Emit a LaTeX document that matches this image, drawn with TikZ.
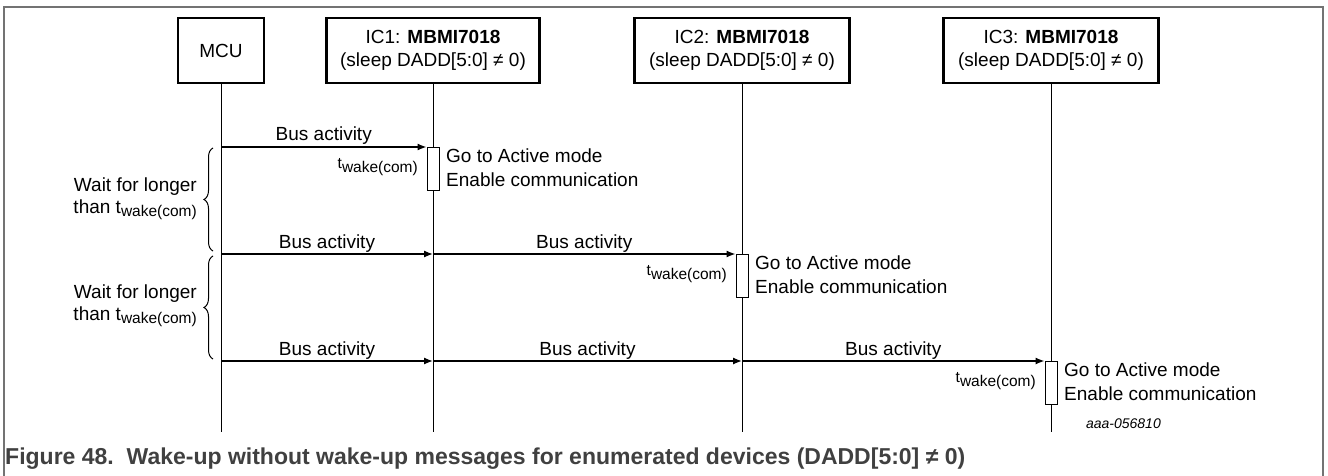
\documentclass[tikz,border=0pt]{standalone}
\usepackage{fontspec}
\setmainfont{Liberation Sans}
\usetikzlibrary{arrows.meta,decorations.pathreplacing}
\newcommand\subfont{\fontsize{15.5}{16}\selectfont}
\newcommand\twakesmall{{\subfont t\raisebox{-4pt}{wake(com)}}}
\newcommand\twakebig{t\raisebox{-3.5pt}{\subfont wake(com)}}
\begin{document}
\begin{tikzpicture}[x=1pt,y=-1pt,
  font=\fontsize{19}{23}\selectfont,
  actor/.style={draw, line width=2.5pt, minimum height=65pt, inner sep=0pt, align=center},
  life/.style={line width=1pt},
  msg/.style={line width=1.3pt, -{Latex[length=9pt,width=7pt]}},
  act/.style={draw, fill=white, line width=1pt, minimum width=12pt, minimum height=43pt, inner sep=0pt},
  lbl/.style={inner sep=0pt},
  frame/.style={draw=black!55, line width=1.5pt},
  wbrace/.style={decorate, decoration={brace, amplitude=9pt}, line width=1pt}
]
\useasboundingbox (0,0) rectangle (1328,476);
\fill[white] (0,0) rectangle (1328,476);
% frame
\coordinate (f1) at (4,476);
\coordinate (f2) at (4,7);
\coordinate (f3) at (1323,7);
\coordinate (f4) at (1323,476);
\draw[frame] (f1) -- (f2) -- (f3) -- (f4);

% actors
\node[actor, minimum width=86pt] (mcu) at (221,50.5) {MCU};
\node[actor, minimum width=213pt] (ic1) at (433,50.5) {IC1: \textbf{MBMI7018}\\(sleep DADD[5:0] ≠ 0)};
\node[actor, minimum width=215pt] (ic2) at (742,50.5) {IC2: \textbf{MBMI7018}\\(sleep DADD[5:0] ≠ 0)};
\node[actor, minimum width=215pt] (ic3) at (1051,50.5) {IC3: \textbf{MBMI7018}\\(sleep DADD[5:0] ≠ 0)};

% lifelines
\coordinate (e0) at (221,432);
\coordinate (e1) at (433,432);
\coordinate (e2) at (742,432);
\coordinate (e3) at (1051,432);
\draw[life] (mcu.south) -- (e0);
\draw[life] (ic1.south) -- (e1);
\draw[life] (ic2.south) -- (e2);
\draw[life] (ic3.south) -- (e3);

% activation boxes
\node[act, anchor=north] (a1) at (433,147) {};
\node[act, anchor=north] (a2) at (742,254) {};
\node[act, anchor=north] (a3) at (1051,361) {};

% message points
\coordinate (m1) at (221,147);
\coordinate (m2) at (221,254);
\coordinate (m3) at (221,361);
\coordinate (l12) at (433,254);
\coordinate (l13) at (433,361);
\coordinate (l23) at (742,361);

\draw[msg] (m1) -- node[lbl, anchor=base, yshift=6pt] (b1) {Bus activity} (a1.north west);
\draw[msg] (m2) -- node[lbl, anchor=base, yshift=6pt] (b2) {Bus activity} (l12);
\draw[msg] (l12) -- node[lbl, anchor=base, yshift=6pt] (b3) {Bus activity} (a2.north west);
\draw[msg] (m3) -- node[lbl, anchor=base, yshift=6pt] (b4) {Bus activity} (l13);
\draw[msg] (l13) -- node[lbl, anchor=base, yshift=6pt] (b5) {Bus activity} (l23);
\draw[msg] (l23) -- node[lbl, anchor=base, yshift=6pt] (b6) {Bus activity} (a3.north west);

% activation texts
\node[lbl, anchor=base east] (t1) at (418,168) {\twakesmall};
\node[lbl, anchor=base west] (g1) at (446,162) {Go to Active mode};
\node[lbl, anchor=base west] (c1) at (446,186) {Enable communication};
\node[lbl, anchor=base east] (t2) at (727,275) {\twakesmall};
\node[lbl, anchor=base west] (g2) at (755,269) {Go to Active mode};
\node[lbl, anchor=base west] (c2) at (755,293) {Enable communication};
\node[lbl, anchor=base east] (t3) at (1036,382) {\twakesmall};
\node[lbl, anchor=base west] (g3) at (1064,376) {Go to Active mode};
\node[lbl, anchor=base west] (c3) at (1064,400) {Enable communication};

% braces
\coordinate (br1a) at (213,251);
\coordinate (br1b) at (213,148);
\coordinate (br2a) at (213,359);
\coordinate (br2b) at (213,256);
\draw[wbrace] (br1a) -- (br1b);
\draw[wbrace] (br2a) -- (br2b);
\node[lbl, anchor=base east] (w1) at (197,191) {Wait for longer};
\node[lbl, anchor=base east] (w2) at (197,213) {than \twakebig};
\node[lbl, anchor=base east] (w3) at (197,298) {Wait for longer};
\node[lbl, anchor=base east] (w4) at (197,320) {than \twakebig};

% id
\node[lbl, anchor=base east, font=\fontsize{14}{16}\selectfont\itshape] (id) at (1161,428) {aaa-056810};

% caption
\node[lbl, anchor=base west, text=black!75, font=\fontsize{23}{26}\selectfont\bfseries] (cap) at (5,464) {Figure 48.\ \ Wake-up without wake-up messages for enumerated devices (DADD[5:0] ≠ 0)};
\end{tikzpicture}
\end{document}
